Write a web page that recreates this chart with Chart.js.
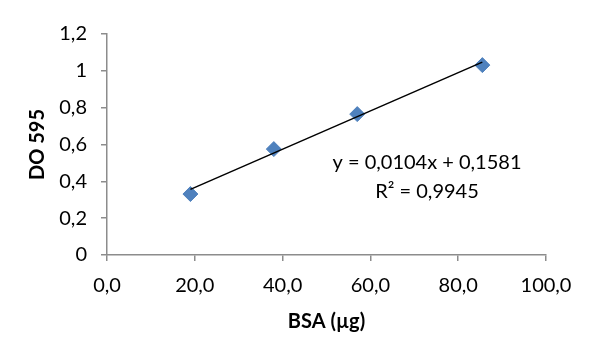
<!DOCTYPE html>
<html>
<head>
<meta charset="utf-8">
<script src="https://cdn.jsdelivr.net/npm/chart.js@4"></script>
<style>
  html, body { margin: 0; padding: 0; background: #fff; }
  #wrap { width: 601px; height: 358px; }
</style>
</head>
<body>
<div id="wrap"><canvas id="chart" width="601" height="358"></canvas></div>
<script>
// BSA standard curve
const bsaUg = [19, 38, 57, 85.5];
const do595 = [0.331, 0.575, 0.765, 1.031];

// linear trendline (as drawn, from first to last point)
const trendX = [19, 85.5];
const trendY = [0.356, 1.047];

const equationLines = ['y = 0,0104x + 0,1581', 'R\u00B2 = 0,9945'];

const xTicks = { min: 0, max: 100, step: 20 };
const yTicks = { min: 0, max: 1.2, step: 0.2 };

const axisColor = '#8c8c8c';
const fontFamily = 'Lato, "Open Sans", sans-serif';
const fontSize = 20;

const equationPlugin = {
  id: 'equation',
  afterDraw(chart) {
    const { ctx, chartArea } = chart;
    ctx.save();
    ctx.font = fontSize + 'px ' + fontFamily;
    ctx.fillStyle = '#000';
    ctx.textAlign = 'center';
    ctx.textBaseline = 'middle';
    ctx.fillText(equationLines[0], chartArea.left + 320, chartArea.top + 129);
    ctx.fillText(equationLines[1], chartArea.left + 320, chartArea.top + 158);
    ctx.restore();
  }
};

function fmtComma(v, digits) {
  return v.toFixed(digits).replace('.', ',');
}

new Chart(document.getElementById('chart'), {
  data: {
    datasets: [
      {
        type: 'scatter',
        data: bsaUg.map((x, i) => ({ x: x, y: do595[i] })),
        pointStyle: 'rectRot',
        pointRadius: 7.5,
        pointHoverRadius: 7.5,
        backgroundColor: '#4f81bd',
        borderColor: '#4f81bd',
        borderWidth: 1,
        order: 2
      },
      {
        type: 'line',
        data: trendX.map((x, i) => ({ x: x, y: trendY[i] })),
        borderColor: '#000',
        borderWidth: 1.5,
        pointRadius: 0,
        fill: false,
        order: 1
      }
    ]
  },
  options: {
    responsive: false,
    animation: false,
    events: [],
    layout: { padding: { left: 0, right: 55, top: 34, bottom: 0 } },
    plugins: {
      legend: { display: false },
      tooltip: { enabled: false }
    },
    scales: {
      x: {
        type: 'linear',
        min: xTicks.min,
        max: xTicks.max,
        afterFit(scale) { scale.height = 103; },
        border: { color: axisColor, width: 1.5 },
        grid: { drawOnChartArea: false, drawTicks: true, tickLength: 6, color: axisColor, lineWidth: 1.5 },
        ticks: {
          stepSize: xTicks.step,
          padding: 13,
          color: '#000',
          font: { family: fontFamily, size: fontSize },
          maxRotation: 0,
          callback: (v) => fmtComma(v, 1)
        },
        title: {
          display: true,
          text: 'BSA (\u00B5g)',
          color: '#000',
          font: { family: fontFamily, size: fontSize, weight: 'bold' },
          padding: { top: 0, bottom: 24 }
        }
      },
      y: {
        type: 'linear',
        min: yTicks.min,
        max: yTicks.max,
        afterFit(scale) { scale.width = 107; },
        border: { color: axisColor, width: 1.5 },
        grid: { drawOnChartArea: false, drawTicks: true, tickLength: 6, color: axisColor, lineWidth: 1.5 },
        ticks: {
          stepSize: yTicks.step,
          padding: 14,
          color: '#000',
          font: { family: fontFamily, size: fontSize },
          callback: (v) => Number(v.toFixed(1)).toString().replace('.', ',')
        },
        title: {
          display: true,
          text: 'DO 595',
          color: '#000',
          font: { family: fontFamily, size: fontSize, weight: 'bold' },
          padding: { top: 26, bottom: 0 }
        }
      }
    }
  },
  plugins: [equationPlugin]
});
</script>
</body>
</html>
